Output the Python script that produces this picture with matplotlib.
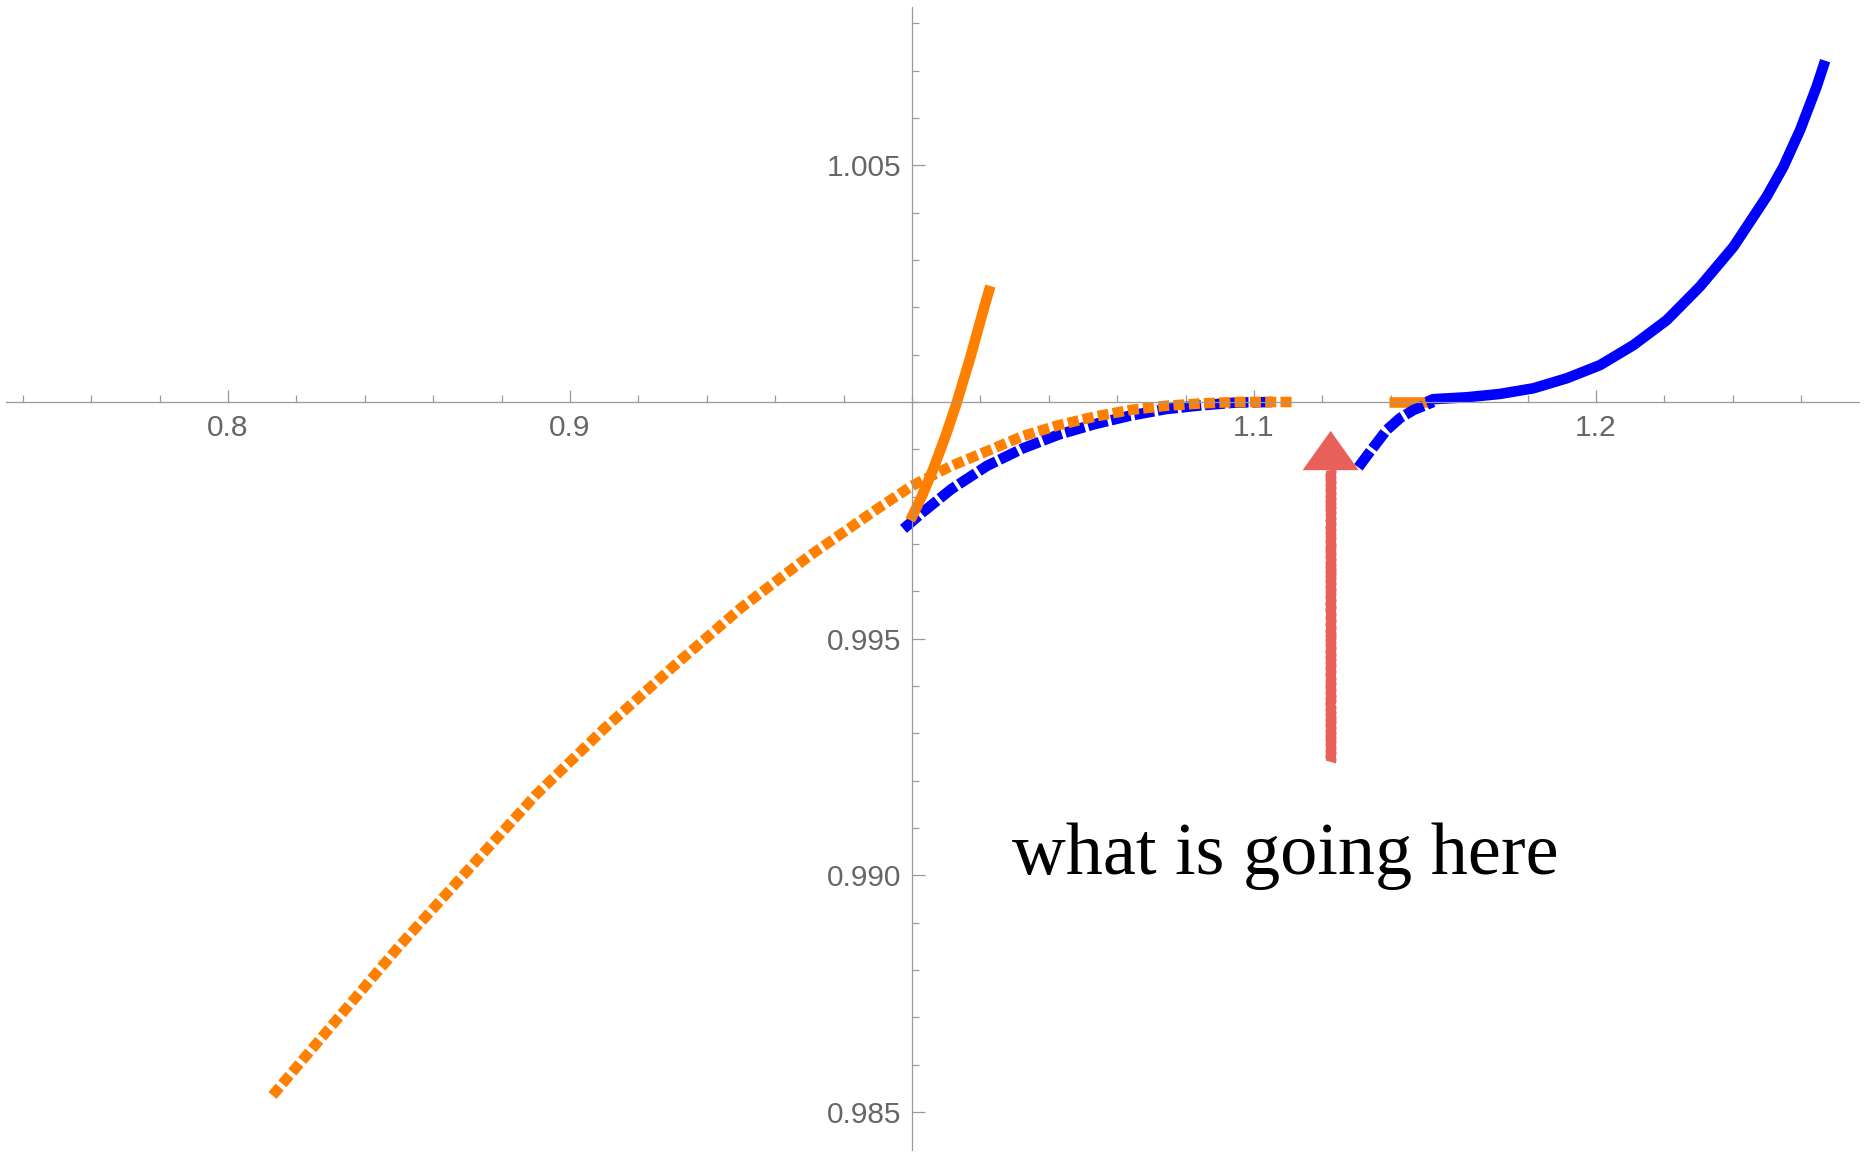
import matplotlib
matplotlib.use("Agg")
import matplotlib.pyplot as plt
from matplotlib.ticker import MultipleLocator

# Curve readings (x, y)
blue_solid_x = [1.1505, 1.1524, 1.1622, 1.1719, 1.1817, 1.1914, 1.2012, 1.2109, 1.2207, 1.2304,
                1.2402, 1.2499, 1.2548, 1.2597, 1.2645, 1.2670]
blue_solid_y = [1.0, 1.00006, 1.0001, 1.00017, 1.00029, 1.0005, 1.00078, 1.0012, 1.00173, 1.00244,
                1.00328, 1.00434, 1.00497, 1.00575, 1.00666, 1.00721]

blue_dash1_x = [0.9975, 1.0031, 1.0115, 1.0219, 1.0324, 1.0428, 1.0533, 1.0637, 1.0742, 1.0846, 1.095, 1.106]
blue_dash1_y = [0.99732, 0.99767, 0.99816, 0.99865, 0.99902, 0.99931, 0.99953, 0.99971, 0.99985, 0.99993, 0.99999, 1.0]

blue_dash2_x = [1.1305, 1.1339, 1.1388, 1.1427, 1.1466, 1.1524]
blue_dash2_y = [0.99862, 0.99895, 0.99941, 0.99966, 0.99983, 1.0]

orange_solid_x = [0.9995, 1.0030, 1.0063, 1.0098, 1.0131, 1.0172, 1.0209, 1.0229]
orange_solid_y = [0.99750, 0.99803, 0.99860, 0.99928, 0.99999, 1.00098, 1.00195, 1.00245]

orange_dash1_x = [0.813, 0.830, 0.850, 0.870, 0.890, 0.910, 0.930, 0.950, 0.970, 0.990, 1.000,
                  1.0115, 1.0219, 1.0324, 1.0428, 1.0533, 1.0637, 1.0742, 1.0846, 1.095, 1.111]
orange_dash1_y = [0.98535, 0.9868, 0.9885, 0.9901, 0.9917, 0.9931, 0.9944, 0.99565, 0.99675, 0.99775, 0.99823,
                  0.99865, 0.99896, 0.99928, 0.99951, 0.99969, 0.99983, 0.99992, 0.99997, 1.0, 1.0]

orange_dash2_x = [1.1395, 1.1515]
orange_dash2_y = [1.0, 1.0]

# Ticks
x_ticks = [0.8, 0.9, 1.1, 1.2]
x_tick_labels = ["0.8", "0.9", "1.1", "1.2"]
y_ticks = [0.985, 0.990, 0.995, 1.005]
y_tick_labels = ["0.985", "0.990", "0.995", "1.005"]

# Annotation
arrow_x = 1.1224
arrow_tail = 0.9924
arrow_base = 0.99856
arrow_tip = 0.99939
arrow_half_w = 0.0082
note_text = "what is going here"
note_x, note_y = 1.0292, 0.99003

BLUE = "#0000FF"
ORANGE = "#FF8000"
RED = "#E9605B"
AXIS = "#9A9A9A"
LW = 7.6

fig = plt.figure(figsize=(18.65, 11.52), dpi=100)
ax = fig.add_axes([0, 0, 1, 1])
ax.set_xlim(0.73333, 1.27865)
ax.set_ylim(0.984157, 1.008492)

# Mathematica-style crossing axes at (1, 1)
for s in ["top", "right"]:
    ax.spines[s].set_visible(False)
ax.spines["left"].set_position(("data", 1.0))
ax.spines["bottom"].set_position(("data", 1.0))
ax.spines["bottom"].set_bounds(0.7351, 1.2769)
ax.spines["left"].set_bounds(0.98420, 1.00834)
for s in ["left", "bottom"]:
    ax.spines[s].set_color(AXIS)
    ax.spines[s].set_linewidth(0.9)

ax.set_xticks(x_ticks, x_tick_labels)
ax.set_yticks(y_ticks, y_tick_labels)
ax.xaxis.set_minor_locator(MultipleLocator(0.02))
ax.yaxis.set_minor_locator(MultipleLocator(0.001))
ax.tick_params(which="both", direction="in", colors=AXIS, width=0.9)
ax.tick_params(which="major", length=9)
ax.tick_params(which="minor", length=5.3)
ax.tick_params(axis="x", pad=8.5, labelcolor="#666666")
ax.tick_params(axis="y", pad=7.5, labelcolor="#666666")
for lab in ax.get_xticklabels() + ax.get_yticklabels():
    lab.set_fontfamily("Liberation Sans")
    lab.set_fontsize(21.5)

# Curves
ax.plot(orange_dash2_x, orange_dash2_y, color=ORANGE, lw=LW, solid_capstyle="butt")
ax.plot(blue_solid_x, blue_solid_y, color=BLUE, lw=LW, solid_capstyle="butt")
ax.plot(blue_dash1_x, blue_dash1_y, color=BLUE, lw=LW, linestyle=(0, (1.9, 0.35)))
ax.plot(blue_dash2_x, blue_dash2_y, color=BLUE, lw=LW, linestyle=(0, (1.9, 0.35)))
ax.plot(orange_solid_x, orange_solid_y, color=ORANGE, lw=LW, solid_capstyle="butt")
ax.plot(orange_dash1_x, orange_dash1_y, color=ORANGE, lw=LW, linestyle=(0, (1.05, 0.4)))

# Hand-drawn looking arrow
shaft, = ax.plot([arrow_x, arrow_x], [arrow_tail, arrow_base], color=RED, lw=7.2,
                 solid_capstyle="butt", zorder=5)
shaft.set_sketch_params(scale=0.6, length=6, randomness=2)
ax.fill([arrow_x - arrow_half_w, arrow_x + arrow_half_w, arrow_x],
        [arrow_base, arrow_base, arrow_tip], color=RED, lw=0, zorder=5)

ax.text(note_x, note_y, note_text, fontsize=53.5, family="Liberation Serif",
        color="black", ha="left", va="baseline")

fig.savefig("out.png", dpi=100, facecolor="white")
